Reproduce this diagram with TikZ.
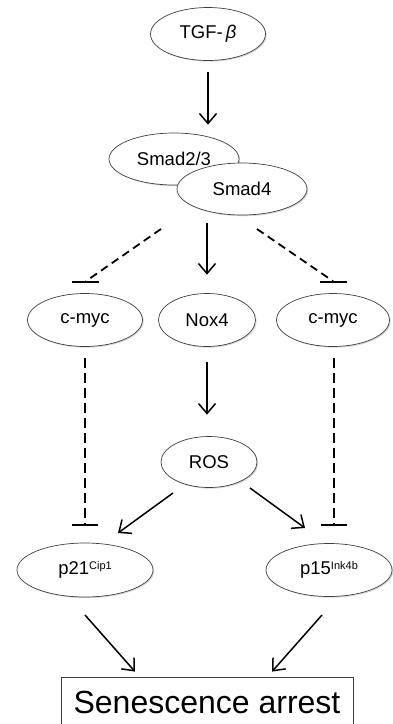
\documentclass[tikz,border=0pt]{standalone}
\usepackage{fontspec}
\setmainfont{Liberation Sans}
\usetikzlibrary{arrows.meta,calc,shadows,shapes.geometric}
\begin{document}
\begin{tikzpicture}[x=1pt,y=-1pt,
  ell/.style={ellipse, draw=black!75, line width=0.7pt, fill=white, inner sep=0pt,
    font=\fontsize{18.5}{20}\selectfont,
    drop shadow={shadow xshift=1.2pt, shadow yshift=-1.2pt, fill=black!30, opacity=0.5}},
  act/.style={line width=1.5pt, -{Straight Barb[length=10pt,width=17pt,line width=1.5pt]}},
  inh/.style={line width=1.8pt, dash pattern=on 8pt off 5pt},
  barline/.style={line width=2pt}
]
\useasboundingbox (0,0) rectangle (393,724);

% nodes
\node[ell, minimum width=115pt, minimum height=53pt] (tgf) at (208,34) {TGF-\,\textit{β}};
\node[ell, minimum width=130pt, minimum height=52pt] (s23) at (174,159) {Smad2/3};
\node[ell, minimum width=130pt, minimum height=52pt] (s4) at (242,189) {Smad4};
\node[ell, minimum width=115pt, minimum height=53pt] (cmycL) at (85,320) {c-myc};
\node[ell, minimum width=97pt, minimum height=53pt] (nox) at (207,320) {Nox4};
\node[ell, minimum width=113pt, minimum height=53pt] (cmycR) at (333,320) {c-myc};
\node[ell, minimum width=96pt, minimum height=51pt] (ros) at (209,462) {ROS};
\node[ell, minimum width=136pt, minimum height=54pt] (p21) at (85,570)
  {p21\raisebox{5pt}{\fontsize{11}{11}\selectfont Cip1}};
\node[ell, minimum width=126pt, minimum height=53pt] (p15) at (329,570)
  {p15\raisebox{5pt}{\fontsize{11}{11}\selectfont Ink4b}};
\node[draw=black!75, line width=0.8pt, rectangle, inner sep=0pt, minimum width=292pt,
  text height=36pt, text depth=27pt, font=\fontsize{32}{34}\selectfont] (sen) at (207,708.5)
  {Senescence arrest};

\coordinate (dL) at (161,229);
\coordinate (dR) at (257,229);

% activating arrows
\draw[act, shorten <=11.5pt, shorten >=8pt] (tgf.south) -- (tgf.south |- s23.north);
\draw[act, shorten <=8pt, shorten >=18.5pt] (nox.north |- s4.south) -- (nox.north);
\draw[act, shorten <=15.5pt, shorten >=21.5pt] (nox.south) -- (nox.south |- ros.north);
\draw[act] ($(ros)+(-36,31)$) -- ($(p21)+(33,-37)$);
\draw[act] ($(ros)+(41,26)$) -- ($(p15)+(-24,-42)$);
\draw[act] ($(p21)+(0,45)$) -- ($(sen.north)+(-72,-5)$);
\draw[act] ($(p15)+(-7,45)$) -- ($(sen.north)+(65,-5)$);

% inhibitory (dashed) connectors
\draw[inh] (dL) -- ($(cmycL.north)+(1,-12)$);
\draw[barline] ($(cmycL.north)+(-13,-11.5)$) -- ($(cmycL.north)+(14,-11.5)$);
\draw[inh] (dR) -- ($(cmycR.north)+(0,-12)$);
\draw[barline] ($(cmycR.north)+(-13,-11.5)$) -- ($(cmycR.north)+(14,-11.5)$);

\draw[inh, dash pattern=on 10pt off 5pt] ($(cmycL.south)+(0,11.5)$) -- ($(cmycL.south |- p21.north)+(0,-18)$);
\draw[barline] ($(cmycL.south |- p21.north)+(-13,-18)$) -- ($(cmycL.south |- p21.north)+(13,-18)$);
\draw[inh, dash pattern=on 10pt off 5pt] ($(cmycR.south)+(1,11.5)$) -- ($(cmycR.south |- p15.north)+(1,-18)$);
\draw[barline] ($(cmycR.south |- p15.north)+(-12,-18)$) -- ($(cmycR.south |- p15.north)+(14,-18)$);
\end{tikzpicture}
\end{document}
